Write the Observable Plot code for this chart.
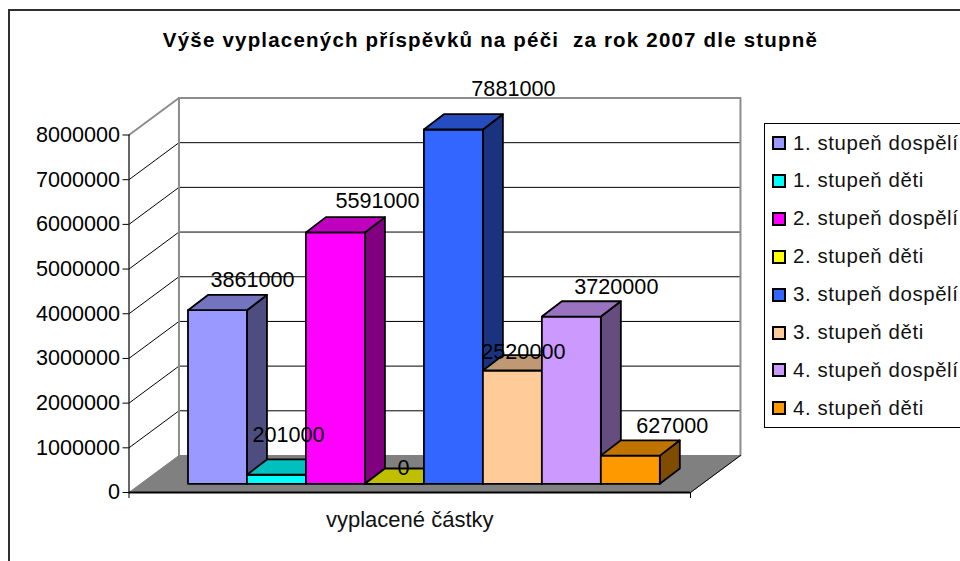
<!DOCTYPE html>
<html lang="cs">
<head>
<meta charset="utf-8">
<script src="https://cdn.jsdelivr.net/npm/d3@7"></script>
<script src="https://cdn.jsdelivr.net/npm/@observablehq/plot@0.6"></script>
<style>
html,body{margin:0;padding:0;background:#fff;width:960px;height:561px;overflow:hidden;font-family:"Liberation Sans",Arial,sans-serif;}
#wrap{position:relative;width:960px;height:561px;overflow:hidden;}
#frame{position:absolute;left:8px;top:9px;width:1000px;height:600px;border:2px solid #303030;}
#title{position:absolute;left:0;top:28px;width:981px;text-align:center;font-weight:bold;font-size:20.5px;line-height:24px;color:#000;white-space:pre;letter-spacing:1.2px;}
#legend{position:absolute;left:764px;top:123px;width:240px;height:303px;border:1.5px solid #000;background:#fff;}
#legend .row{position:absolute;left:7px;height:20px;display:flex;align-items:center;font-size:20.4px;color:#111;white-space:pre;letter-spacing:.6px;}
#legend .sw{width:10px;height:10px;border:2px solid #000;margin-right:7px;}
svg{position:absolute;left:0;top:0;}
</style>
</head>
<body>
<div id="wrap">
<div id="frame"></div>
<div id="chart"></div>
<div id="title">Výše vyplacených příspěvků na péči  za rok 2007 dle stupně</div>
<div id="legend"></div>
</div>
<script>
const titleText = "Výše vyplacených příspěvků na péči  za rok 2007 dle stupně";
const categoryLabel = "vyplacené částky";
const seriesNames = ["1. stupeň dospělí","1. stupeň děti","2. stupeň dospělí","2. stupeň děti","3. stupeň dospělí","3. stupeň děti","4. stupeň dospělí","4. stupeň děti"];
const seriesValues = [3861000,201000,5591000,0,7881000,2520000,3720000,627000];
const seriesColors = ["#9999FF","#00FFFF","#FF00FF","#FFFF00","#3366FF","#FFCC99","#CC99FF","#FF9900"];
const yTicks = [0,1000000,2000000,3000000,4000000,5000000,6000000,7000000,8000000];

// 3D projection constants, in scale units (x: one bar width; y: chart value)
const floorW = 9.52, depthX = 0.847, depthY = 828000;
const baseX = 1.0, baseY = 195000, barDX = 0.339, barDY = 342000, barZoom = 1.006;
// data label placement relative to the top of each bar's front face (px)
const labelDx = [35,12,42,9,60,11,45,42];
const labelDy = [-30,-40,-31,-16,-40,-18,-29,-30];

const yMax = yTicks[yTicks.length-1];
const poly = (id, fill, pts) => pts.concat([pts[0]]).map(([x,y]) => ({id, fill, x, y}));
const shade = (c,k) => { const r = d3.rgb(c); return d3.rgb(r.r*k,r.g*k,r.b*k).formatHex(); };

const bars = [];
seriesValues.forEach((v,i) => {
  const x0 = baseX+i, x1 = x0+1, b = baseY, t = baseY+v*barZoom, c = seriesColors[i];
  bars.push(...poly(`side${i}`, shade(c,.5), [[x1,b],[x1+barDX,b+barDY],[x1+barDX,t+barDY],[x1,t]]));
  bars.push(...poly(`front${i}`, c, [[x0,b],[x1,b],[x1,t],[x0,t]]));
  bars.push(...poly(`top${i}`, shade(c,.75), [[x0,t],[x1,t],[x1+barDX,t+barDY],[x0+barDX,t+barDY]]));
});
const floor = poly("floor","#808080",[[0,0],[floorW,0],[floorW+depthX,depthY],[depthX,depthY]]);
const grid = yTicks.slice(1,-1).flatMap(v => [[0,v],[depthX,v+depthY],[floorW+depthX,v+depthY]].map(([x,y]) => ({v,x,y})));
const wallOutline = [[0,yMax],[depthX,yMax+depthY],[floorW+depthX,yMax+depthY],[floorW+depthX,depthY]].map(([x,y]) => ({x,y}));
const wallLeft = [[depthX,depthY],[depthX,yMax+depthY]].map(([x,y]) => ({x,y}));

const labelFont = '"Liberation Sans", Arial, sans-serif';
const valueLabels = seriesValues.map((v,i) => Plot.text([{x:baseX+i+.5, y:baseY+v*barZoom, t:String(v)}], {
  x:"x", y:"y", text:"t", dx:labelDx[i], dy:labelDy[i], fontSize:21.6, fill:"#000", fontFamily:labelFont
}));

const plot = Plot.plot({
  width:960, height:561,
  marginLeft:128.5, marginRight:270, marginTop:134.5, marginBottom:69,
  style:{fontFamily:labelFont, background:"transparent", overflow:"visible"},
  x:{domain:[0,floorW]},
  y:{domain:[0,yMax]},
  color:{type:"identity"},
  marks:[
    Plot.line(grid,{x:"x",y:"y",z:"v",stroke:"#000",strokeWidth:1}),
    Plot.line(wallOutline,{x:"x",y:"y",stroke:"#8c8c8c",strokeWidth:2}),
    Plot.line(wallLeft,{x:"x",y:"y",stroke:"#8c8c8c",strokeWidth:2}),
    Plot.line(floor,{x:"x",y:"y",z:"id",fill:"fill",stroke:"#808080",strokeWidth:1}),
    Plot.line([{x:floorW,y:0},{x:floorW+depthX,y:depthY}],{x:"x",y:"y",stroke:"#000",strokeWidth:1}),
    Plot.line(bars,{x:"x",y:"y",z:"id",fill:"fill",stroke:"#000",strokeWidth:1.8}),
    Plot.ruleY([0],{stroke:"#000",strokeWidth:2}),
    Plot.ruleX([0],{stroke:"#000",strokeWidth:1.2}),
    Plot.axisY({ticks:yTicks,tickFormat:d=>String(d),tickSize:6,tickPadding:3,fontSize:21.6,label:null,stroke:"#000",color:"#000",fill:"#000"}),
    Plot.axisX({ticks:[0,floorW],tickFormat:()=>"",tickSize:6,label:null,stroke:"#000"}),
    Plot.text([categoryLabel],{x:()=>floorW/2,y:()=>0,dy:27,fontSize:22,fill:"#111",fontFamily:labelFont}),
    ...valueLabels
  ]
});
document.getElementById("chart").appendChild(plot);

const legend = document.getElementById("legend");
seriesNames.forEach((name,i) => {
  const row = document.createElement("div");
  row.className = "row";
  row.style.top = (9 + i*37.9) + "px";
  const sw = document.createElement("span");
  sw.className = "sw";
  sw.style.background = seriesColors[i];
  row.appendChild(sw);
  row.appendChild(document.createTextNode(name));
  legend.appendChild(row);
});
document.getElementById("title").textContent = titleText;
</script>
</body>
</html>
